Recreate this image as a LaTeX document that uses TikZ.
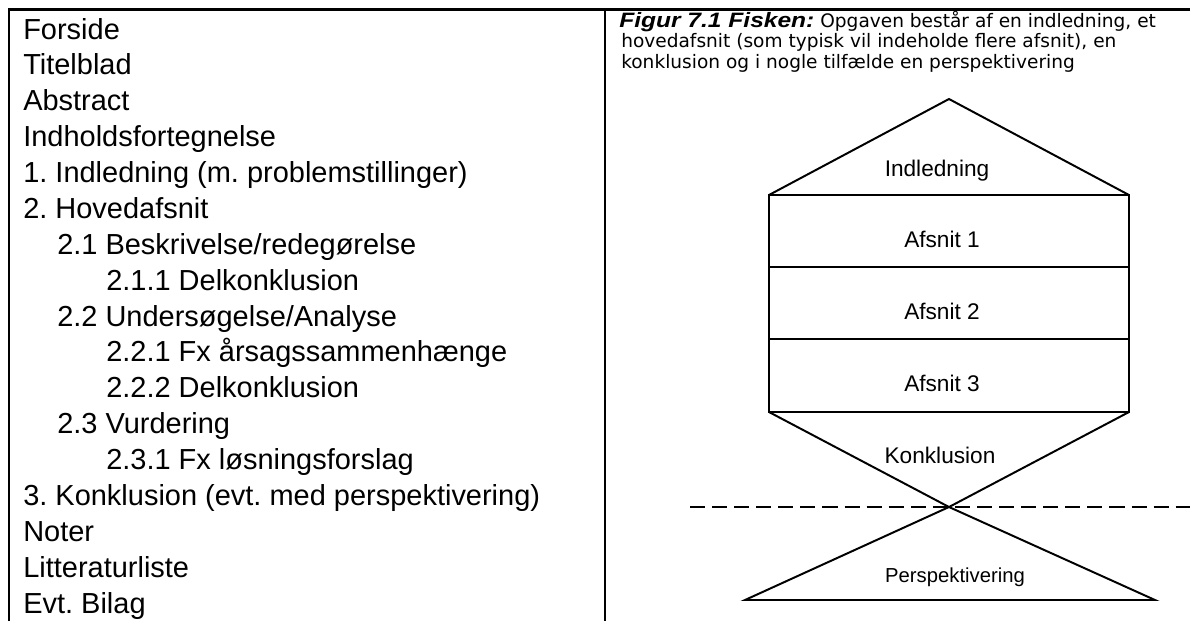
\documentclass[tikz,border=0pt]{standalone}
\usepackage{fontspec}
\setmainfont{Liberation Sans}
\newfontfamily\capfamily{DejaVu Sans}
\newfontfamily\figfamily[FakeStretch=1.18]{Liberation Sans}
\usetikzlibrary{positioning}
\frenchspacing
\newcommand{\listfont}{\fontsize{20.6pt}{24pt}\selectfont}
\newcommand{\capfont}{\capfamily\fontsize{13.2pt}{15pt}\selectfont}
\newcommand{\figfont}{\figfamily\bfseries\itshape\fontsize{14.8pt}{16pt}\selectfont}
\newcommand{\partfont}{\fontsize{16.1pt}{18pt}\selectfont}
\tikzstyle{entry}=[anchor=base west, inner sep=0pt, font=\listfont]
\tikzstyle{captext}=[anchor=base west, inner sep=0pt, font=\capfont]
\tikzstyle{partname}=[anchor=base, inner sep=0pt, font=\partfont]
\tikzstyle{frame}=[line width=2.1pt]
\tikzstyle{fish}=[line width=1.4pt, line join=miter]
\tikzstyle{cutline}=[line width=1.4pt, dash pattern=on 10.7pt off 5pt]
\newcommand{\tocline}[2]{node (t#1) [entry] {#2}}
\newcommand{\capline}[2]{node (c#1) [captext] {#2}}
\newcommand{\fishpart}[2]{node (f#1) [partname] {#2}}

\begin{document}
\begin{tikzpicture}[x=0.025cm, y=-0.025cm]
\useasboundingbox (0,0) rectangle (1190,621);

% Draw table lines
\draw[frame] (9,621) -- (9,9.5) -- (1190,9.5);
\draw[frame] (605,9.5) -- (605,621);

% Draw contents list
\path (23, 39)                      \tocline{1}{Forside};
\path (t1.base west) + (0, 35.875)  \tocline{2}{Titelblad};
\path (t2.base west) + (0, 35.875)  \tocline{3}{Abstract};
\path (t3.base west) + (0, 35.875)  \tocline{4}{Indholdsfortegnelse};
\path (t4.base west) + (0, 35.875)  \tocline{5}{1. Indledning (m. problemstillinger)};
\path (t5.base west) + (0, 35.875)  \tocline{6}{2. Hovedafsnit};
\path (t6.base west) + (34, 35.875) \tocline{7}{2.1 Beskrivelse/redegørelse};
\path (t7.base west) + (49, 35.875) \tocline{8}{2.1.1 Delkonklusion};
\path (t8.base west) + (-49, 35.875) \tocline{9}{2.2 Undersøgelse/Analyse};
\path (t9.base west) + (49, 35.875) \tocline{10}{2.2.1 Fx årsagssammenhænge};
\path (t10.base west) + (0, 35.875) \tocline{11}{2.2.2 Delkonklusion};
\path (t11.base west) + (-49, 35.875) \tocline{12}{2.3 Vurdering};
\path (t12.base west) + (49, 35.875) \tocline{13}{2.3.1 Fx løsningsforslag};
\path (t13.base west) + (-83, 35.875) \tocline{14}{3. Konklusion (evt. med perspektivering)};
\path (t14.base west) + (0, 35.875) \tocline{15}{Noter};
\path (t15.base west) + (0, 35.875) \tocline{16}{Litteraturliste};
\path (t16.base west) + (0, 35.875) \tocline{17}{Evt. Bilag};

% Draw caption
\path (619, 27)                     \capline{1}{{\figfont Figur 7.1 Fisken:} Opgaven består af en indledning, et};
\path (c1.base west) + (2, 20.5)    \capline{2}{hovedafsnit (som typisk vil indeholde flere afsnit), en};
\path (c2.base west) + (0, 20.5)    \capline{3}{konklusion og i nogle tilfælde en perspektivering};

% Draw the fish
\draw[fish] (769,195) -- (949,99) -- (1129,195);
\draw[fish] (769,195) rectangle (1129,412);
\draw[fish] (769,267) -- (1129,267);
\draw[fish] (769,339) -- (1129,339);
\draw[fish] (769,412) -- (949,507) -- (1129,412);
\draw[fish] (949,507) -- (745,600) -- (1155,600) -- cycle;
\draw[cutline] (690,507) -- (1190,507);

% Draw part names
\path (937, 176) \fishpart{1}{Indledning};
\path (942, 247) \fishpart{2}{Afsnit 1};
\path (942, 319) \fishpart{3}{Afsnit 2};
\path (942, 391) \fishpart{4}{Afsnit 3};
\path (940, 463) \fishpart{5}{Konklusion};
\path (955, 582) node (f6) [partname, font=\fontsize{14.4pt}{16pt}\selectfont] {Perspektivering};

\end{tikzpicture}
\end{document}
